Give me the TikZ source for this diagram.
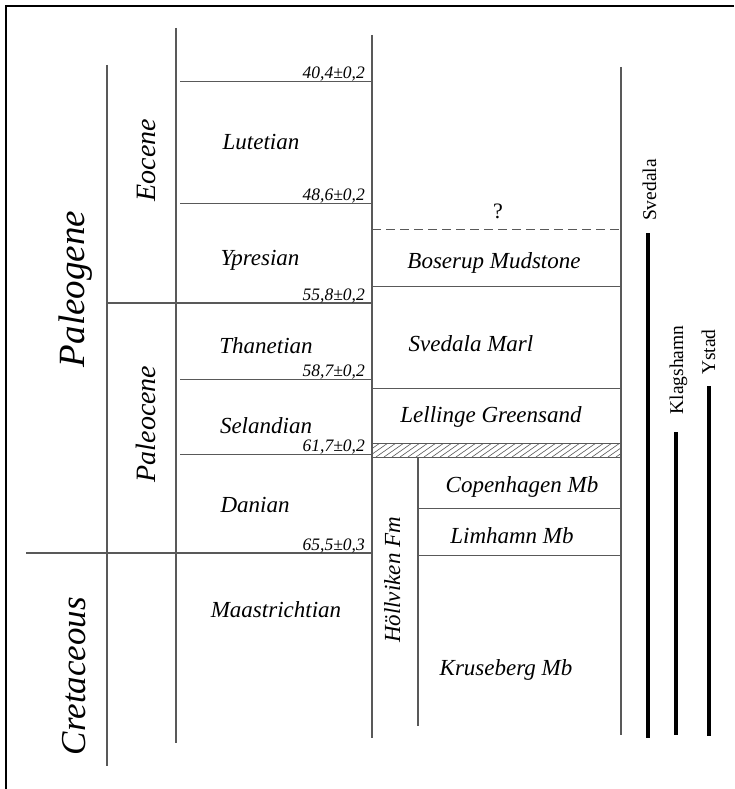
\documentclass[tikz,border=0pt]{standalone}
\usepackage{fontspec}
\setmainfont{Liberation Serif}
\usetikzlibrary{positioning}
\definecolor{rulegray}{gray}{0.35}
\tikzset{
	vline/.style={draw=rulegray, line width=1.3pt},
	hline/.style={draw=rulegray, line width=1pt},
	bline/.style={draw=rulegray, line width=1.6pt},
	rangebar/.style={draw=black, line width=3.3pt},
	stage/.style={
		font={\fontsize{23}{27}\selectfont\itshape},
		anchor=base, inner sep=0pt
	},
	age/.style={
		font={\fontsize{17.5}{20}\selectfont\itshape},
		anchor=base east, inner sep=0pt
	},
	epoch/.style={
		font={\fontsize{28}{32}\selectfont\itshape},
		rotate=90, anchor=base, inner sep=0pt
	},
	period/.style={
		font={\fontsize{37}{42}\selectfont\itshape},
		rotate=90, anchor=base, inner sep=0pt
	},
	site/.style={
		font={\fontsize{19.5}{22}\selectfont},
		rotate=90, anchor=base, inner sep=0pt
	},
}

\begin{document}
\begin{tikzpicture}[x=1pt,y=-1pt]
	\useasboundingbox (0,0) rectangle (734,789);
	% frame
	\draw[line width=2pt] (734,6) -- (6,6) -- (6,789);
	% column rules
	\draw[vline] (107,65) -- (107,766);
	\draw[vline] (176,28) -- (176,743);
	\draw[vline] (372,35) -- (372,738);
	\draw[vline] (418,457) -- (418,726);
	\draw[vline] (621,67) -- (621,735);
	% stage boundaries with ages
	\foreach \yy/\age/\nm in {82/{40,4±0,2}/a1, 203/{48,6±0,2}/a2,
		379/{58,7±0,2}/a4, 454/{61,7±0,2}/a5}
	{
		\draw[hline] (180,\yy) -- (372,\yy);
		\node[age] (\nm) at (365,\yy-3) {\age};
	}
	\draw[bline] (107,303) -- (372,303);
	\node[age] (a3) at (365,300) {55,8±0,2};
	\draw[bline] (26,553) -- (372,553);
	\node[age] (a6) at (365,550) {65,5±0,3};
	% lithostratigraphy
	\draw[hline, dash pattern=on 9pt off 5pt] (372,229) -- (621,229);
	\draw[hline] (372,286) -- (621,286);
	\draw[hline] (372,388) -- (621,388);
	\begin{scope}
		\clip (372,443) rectangle (621,457);
		\foreach \x in {352,360,...,628}
		\draw[rulegray, line width=0.6pt] (\x,457) -- (\x+20,443);
	\end{scope}
	\draw[hline] (372,443) rectangle (621,457);
	\draw[hline] (418,508) -- (621,508);
	\draw[hline] (418,555) -- (621,555);
	% periods and epochs
	\node[period] (paleogene) at (84,289) {Paleogene};
	\node[period, font={\fontsize{35}{40}\selectfont\itshape}] (cretaceous) at (85,676) {Cretaceous};
	\node[epoch] (eocene) at (155,160) {Eocene};
	\node[epoch] (paleocene) at (155,424) {Paleocene};
	% stages
	\node[stage] (lutetian) at (261,149) {Lutetian};
	\node[stage] (ypresian) at (260,265) {Ypresian};
	\node[stage] (thanetian) at (266,353) {Thanetian};
	\node[stage] (selandian) at (266,433) {Selandian};
	\node[stage] (danian) at (255,512) {Danian};
	\node[stage] (maastr) at (276,617) {Maastrichtian};
	% formations
	\node[stage, font={\fontsize{22}{26}\selectfont}] (unknown) at (498,218) {?};
	\node[stage] (boserup) at (494,268) {Boserup Mudstone};
	\node[stage] (svmarl) at (471,351) {Svedala Marl};
	\node[stage] (lellinge) at (491,422) {Lellinge Greensand};
	\node[stage] (copen) at (522,492) {Copenhagen Mb};
	\node[stage] (limhamn) at (512,543) {Limhamn Mb};
	\node[stage] (kruseberg) at (506,675) {Kruseberg Mb};
	\node[stage, rotate=90] (hollviken) at (400,580) {Höllviken Fm};
	% localities
	\coordinate (sv1) at (648,233);
	\coordinate (sv2) at (648,738);
	\coordinate (kl1) at (676,432);
	\coordinate (kl2) at (676,735);
	\coordinate (ys1) at (709,386);
	\coordinate (ys2) at (709,736);
	\draw[rangebar] (sv1) -- (sv2);
	\draw[rangebar] (kl1) -- (kl2);
	\draw[rangebar] (ys1) -- (ys2);
	\node[site] (svedala) at (656,190) {Svedala};
	\node[site] (klagshamn) at (683,370) {Klagshamn};
	\node[site] (ystad) at (715,352) {Ystad};
\end{tikzpicture}
\end{document}
